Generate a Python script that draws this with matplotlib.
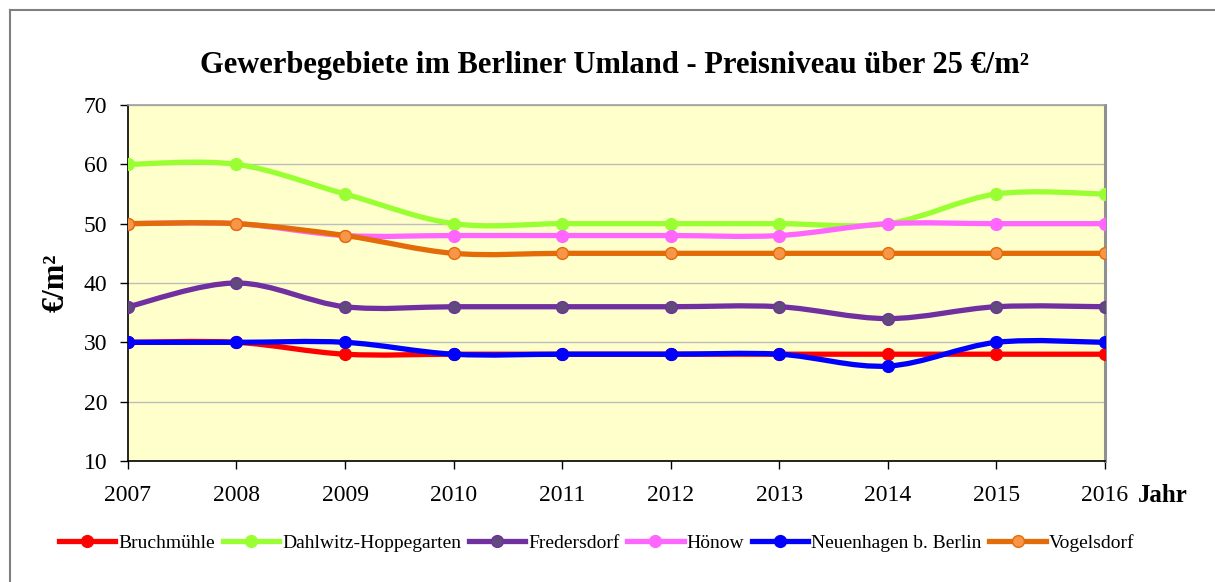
import matplotlib
matplotlib.use('Agg')
from matplotlib import pyplot as plt
from matplotlib.path import Path
from matplotlib.patches import PathPatch
from matplotlib.lines import Line2D
import numpy as np

plt.rcParams['font.family'] = ['Liberation Serif', 'DejaVu Serif']

years = [2007, 2008, 2009, 2010, 2011, 2012, 2013, 2014, 2015, 2016]
bruchmuehle = [30, 30, 28, 28, 28, 28, 28, 28, 28, 28]
dahlwitz = [60, 60, 55, 50, 50, 50, 50, 50, 55, 55]
fredersdorf = [36, 40, 36, 36, 36, 36, 36, 34, 36, 36]
hoenow = [50, 50, 48, 48, 48, 48, 48, 50, 50, 50]
neuenhagen = [30, 30, 30, 28, 28, 28, 28, 26, 30, 30]
vogelsdorf = [50, 50, 48, 45, 45, 45, 45, 45, 45, 45]

series = [
    ('Bruchmühle', bruchmuehle, '#FF0000', '#FF0000', '#FF0000'),
    ('Dahlwitz-Hoppegarten', dahlwitz, '#99FF33', '#99FF33', '#99FF33'),
    ('Fredersdorf', fredersdorf, '#7030A0', '#604A7B', '#7030A0'),
    ('Hönow', hoenow, '#FF66FF', '#FF66FF', '#FF66FF'),
    ('Neuenhagen b. Berlin', neuenhagen, '#0000FF', '#0000FF', '#0000FF'),
    ('Vogelsdorf', vogelsdorf, '#E36C09', '#F79646', '#E36C09'),
]


def smooth_path(x, y):
    # Excel-style smoothed line: Catmull-Rom segments as cubic Bezier
    pts = np.column_stack([x, y]).astype(float)
    verts = [pts[0]]
    codes = [Path.MOVETO]
    n = len(pts)
    for i in range(n - 1):
        p0 = pts[max(i - 1, 0)]
        p1 = pts[i]
        p2 = pts[i + 1]
        p3 = pts[min(i + 2, n - 1)]
        c1 = p1 + (p2 - p0) / 6.0
        c2 = p2 - (p3 - p1) / 6.0
        verts += [c1, c2, p2]
        codes += [Path.CURVE4] * 3
    return Path(verts, codes)


fig = plt.figure(figsize=(12.15, 5.82), dpi=100)
# outer chart frame (only top and left edges fall inside the image)
fig.add_artist(Line2D([10 / 1215, 1.0], [1 - 10 / 582] * 2, transform=fig.transFigure,
                      color='#808080', linewidth=1.5))
fig.add_artist(Line2D([10 / 1215] * 2, [0.0, 1 - 10 / 582], transform=fig.transFigure,
                      color='#808080', linewidth=1.5))

ax = fig.add_axes([0.1053, 0.2079, 0.8041, 0.6117])
ax.set_facecolor('#FFFFCC')

handles = []
for i, (name, vals, lc, mfc, mec) in enumerate(series):
    patch = PathPatch(smooth_path(years, vals), facecolor='none', edgecolor=lc,
                      linewidth=3.8, capstyle='round', joinstyle='round',
                      zorder=3 + i * 0.1)
    ax.add_patch(patch)
    ax.plot(years, vals, linestyle='none', marker='o', markersize=8.5,
            markerfacecolor=mfc, markeredgecolor=mec, markeredgewidth=1,
            zorder=3.05 + i * 0.1)
    handles.append(Line2D([], [], color=lc, linewidth=3.8, marker='o',
                          markersize=8.5, markerfacecolor=mfc,
                          markeredgecolor=mec, label=name))

ax.set_xlim(2007, 2016)
ax.set_ylim(10, 70)
ax.set_xticks(years)
ax.set_yticks(range(10, 71, 10))
ax.yaxis.grid(True, color='#BDBDBD', linewidth=1)
ax.set_axisbelow(True)
ax.tick_params(axis='both', labelsize=17, length=6, width=1, colors='black')
ax.tick_params(axis='x', pad=11)
ax.tick_params(axis='y', pad=9)

ax.spines['top'].set_color('#A0A0A0')
ax.spines['top'].set_linewidth(1.2)
ax.spines['right'].set_color('#909090')
ax.spines['right'].set_linewidth(2.2)
for s in ['left', 'bottom']:
    ax.spines[s].set_color('black')
    ax.spines[s].set_linewidth(1.2)

ax.set_ylabel('€/m²', fontsize=22, fontweight='bold', labelpad=9)
fig.text(0.506, 1 - 66 / 582, 'Gewerbegebiete im Berliner Umland - Preisniveau über 25 €/m²',
         ha='center', va='center', fontsize=22, fontweight='bold')
fig.text(1138 / 1215, 1 - 496 / 582, 'Jahr', ha='left', va='center',
         fontsize=18, fontweight='bold')

fig.legend(handles=handles, loc='center', bbox_to_anchor=(0.491, 1 - 543 / 582),
           ncol=6, frameon=False, fontsize=14, handlelength=2.9,
           handletextpad=0.15, columnspacing=0.4)

fig.savefig('out.png', dpi=100)
